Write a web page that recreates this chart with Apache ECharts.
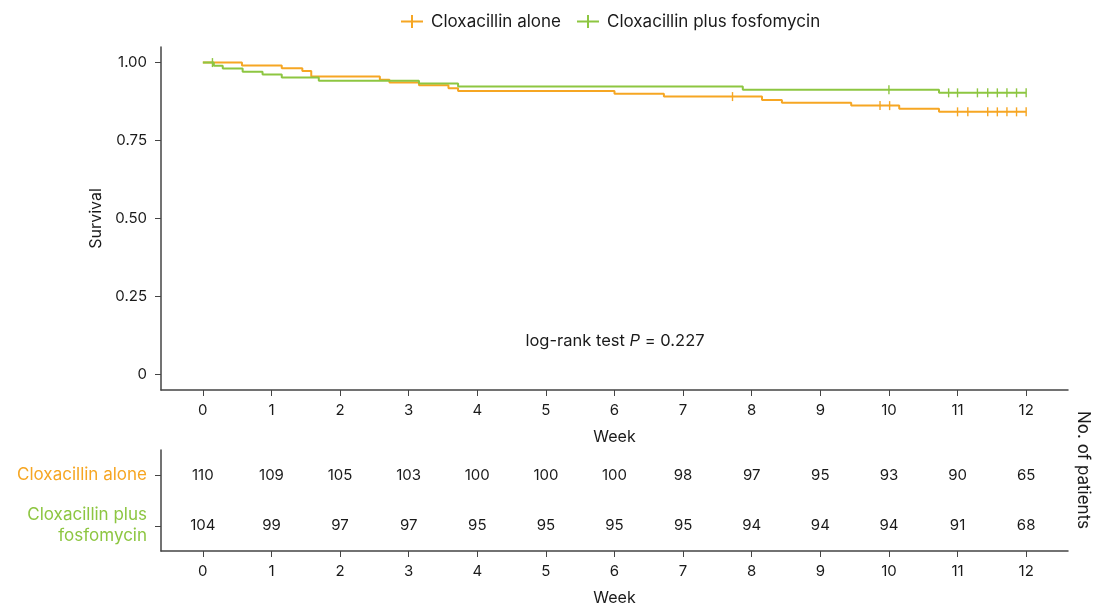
<!DOCTYPE html>
<html>
<head>
<meta charset="utf-8">
<script src="https://cdn.jsdelivr.net/npm/echarts@6/dist/echarts.min.js"></script>
<style>
html,body{margin:0;padding:0;background:#fff;}
#chart{width:1096px;height:608px;}
</style>
</head>
<body>
<div id="chart"></div>
<script>
// ---- data ----
var seriesNames = ['Cloxacillin alone', 'Cloxacillin plus fosfomycin'];
var rowLabels = ['Cloxacillin alone', 'Cloxacillin plus\nfosfomycin'];
var weeks = [0,1,2,3,4,5,6,7,8,9,10,11,12];
var yTicks = [0, 0.25, 0.5, 0.75, 1];

var aloneTimes = [0, 0.57, 1.15, 1.45, 1.58, 2.58, 2.72, 3.15, 3.58, 3.72, 6.0, 6.72, 8.15, 8.44, 9.45, 10.15, 10.73, 12];
var aloneSurv  = [1, 0.991, 0.982, 0.973, 0.955, 0.945, 0.936, 0.927, 0.918, 0.909, 0.900, 0.891, 0.880, 0.871, 0.862, 0.852, 0.842, 0.842];
var aloneCensor = [7.72, 9.87, 10.01, 11.0, 11.15, 11.44, 11.58, 11.72, 11.86, 12.0];

var plusTimes = [0, 0.16, 0.29, 0.58, 0.87, 1.15, 1.69, 3.15, 3.72, 7.87, 10.73, 12];
var plusSurv  = [1, 0.990, 0.981, 0.971, 0.962, 0.952, 0.942, 0.933, 0.923, 0.913, 0.903, 0.903];
var plusCensor = [0.14, 10.0, 10.87, 11.0, 11.29, 11.44, 11.58, 11.72, 11.86, 12.0];

var aloneAtRisk = [110,109,105,103,100,100,100,98,97,95,93,90,65];
var plusAtRisk  = [104,99,97,97,95,95,95,95,94,94,94,91,68];

// ---- styling ----
var ORANGE = '#F6A623';
var GREEN = '#8DC641';
var FONT = 'Inter';
var AX = '#444';
var TXT = '#1a1a1a';

function pairs(ts, ss){ return ts.map(function(t,i){ return [t, ss[i]]; }); }
function survAt(ts, ss, t){
  var v = ss[0];
  for (var i=0;i<ts.length;i++){ if (ts[i] <= t) v = ss[i]; }
  return v;
}
function censorPts(cs, ts, ss){ return cs.map(function(t){ return [t, survAt(ts, ss, t)]; }); }
function riskPts(arr, row){ return arr.map(function(v,i){ return [weeks[i], row, v]; }); }

var plusIcon = 'path://M0,5.5 L22,5.5 L22,7.5 L0,7.5 Z M10,0 L12,0 L12,13 L10,13 Z';

var chart = echarts.init(document.getElementById('chart'), null, {renderer:'canvas'});
var option = {
  animation: false,
  textStyle: {fontFamily: FONT},
  legend: {
    data: [{name: seriesNames[0], icon: plusIcon}, {name: seriesNames[1], icon: plusIcon}],
    top: 8, left: 396,
    itemWidth: 22, itemHeight: 13, itemGap: 16,
    textStyle: {fontSize: 17, color: TXT, fontFamily: FONT, padding: [0, 0, 0, 3]}
  },
  grid: [
    {left: 161, right: 28, top: 47, bottom: 218},
    {left: 161, right: 28, top: 450, bottom: 57}
  ],
  xAxis: [
    {
      type: 'value', gridIndex: 0, min: -0.61, max: 12.61,
      name: 'Week', nameLocation: 'middle', nameGap: 39,
      nameTextStyle: {fontSize: 16, color: TXT},
      splitLine: {show: false},
      axisLine: {show: true, onZero: false, lineStyle: {color: AX, width: 1.5}},
      axisTick: {show: true, length: 6, lineStyle: {color: AX}, customValues: weeks},
      axisLabel: {fontSize: 15, color: TXT, margin: 13, customValues: weeks}
    },
    {
      type: 'value', gridIndex: 1, min: -0.61, max: 12.61,
      name: 'Week', nameLocation: 'middle', nameGap: 39,
      nameTextStyle: {fontSize: 16, color: TXT},
      splitLine: {show: false},
      axisLine: {show: true, onZero: false, lineStyle: {color: AX, width: 1.5}},
      axisTick: {show: true, length: 6, lineStyle: {color: AX}, customValues: weeks},
      axisLabel: {fontSize: 15, color: TXT, margin: 13, customValues: weeks}
    }
  ],
  yAxis: [
    {
      type: 'value', gridIndex: 0, min: -0.05, max: 1.05,
      name: 'Survival', nameLocation: 'middle', nameGap: 56, nameRotate: 90,
      nameTextStyle: {fontSize: 16, color: TXT},
      splitLine: {show: false},
      axisLine: {show: true, onZero: false, lineStyle: {color: AX, width: 1.5}},
      axisTick: {show: true, length: 6, lineStyle: {color: AX}, customValues: yTicks},
      axisLabel: {fontSize: 15, color: TXT, margin: 14, customValues: yTicks,
        formatter: function(v){ return v === 0 ? '0' : v.toFixed(2); }}
    },
    {
      type: 'category', gridIndex: 1, data: rowLabels, inverse: true,
      splitLine: {show: false},
      axisLine: {show: true, onZero: false, lineStyle: {color: AX, width: 1.5}},
      axisTick: {show: true, length: 6, alignWithLabel: true, lineStyle: {color: AX}},
      axisLabel: {fontSize: 17, margin: 14, lineHeight: 21, align: 'right',
        color: function(v, i){ return i === 0 ? ORANGE : GREEN; }}
    }
  ],
  series: [
    {
      name: seriesNames[0], type: 'line', step: 'end', xAxisIndex: 0, yAxisIndex: 0,
      data: pairs(aloneTimes, aloneSurv), showSymbol: false, symbol: 'none',
      lineStyle: {color: ORANGE, width: 2}, itemStyle: {color: ORANGE}, z: 3
    },
    {
      name: seriesNames[1], type: 'line', step: 'end', xAxisIndex: 0, yAxisIndex: 0,
      data: pairs(plusTimes, plusSurv), showSymbol: false, symbol: 'none',
      lineStyle: {color: GREEN, width: 2}, itemStyle: {color: GREEN}, z: 4
    },
    {
      name: 'aloneCensor', type: 'scatter', xAxisIndex: 0, yAxisIndex: 0,
      data: censorPts(aloneCensor, aloneTimes, aloneSurv),
      symbol: 'rect', symbolSize: [1.4, 9], itemStyle: {color: ORANGE, opacity: 1}, z: 5
    },
    {
      name: 'plusCensor', type: 'scatter', xAxisIndex: 0, yAxisIndex: 0,
      data: censorPts(plusCensor, plusTimes, plusSurv),
      symbol: 'rect', symbolSize: [1.4, 9], itemStyle: {color: GREEN, opacity: 1}, z: 5
    },
    {
      name: 'riskAlone', type: 'scatter', xAxisIndex: 1, yAxisIndex: 1,
      data: riskPts(aloneAtRisk, 0), symbolSize: 0, itemStyle: {opacity: 1},
      label: {show: true, position: 'inside', fontSize: 15, color: TXT, opacity: 1,
        formatter: function(p){ return p.value[2]; }}
    },
    {
      name: 'riskPlus', type: 'scatter', xAxisIndex: 1, yAxisIndex: 1,
      data: riskPts(plusAtRisk, 1), symbolSize: 0, itemStyle: {opacity: 1},
      label: {show: true, position: 'inside', fontSize: 15, color: TXT, opacity: 1,
        formatter: function(p){ return p.value[2]; }}
    }
  ],
  graphic: [
    {
      type: 'text', x: 1083, y: 470, rotation: -Math.PI/2,
      style: {text: 'No. of patients', fill: TXT, font: '17px Inter',
        textAlign: 'center', textVerticalAlign: 'middle'}
    },
    {
      type: 'text', x: 615, y: 341,
      style: {
        text: '{a|log-rank test }{b|P}{a| = 0.227}',
        textAlign: 'center', textVerticalAlign: 'middle',
        rich: {
          a: {fontSize: 16.5, fontFamily: FONT, fill: TXT, color: TXT},
          b: {fontSize: 16.5, fontFamily: FONT, fontStyle: 'italic', fill: TXT, color: TXT}
        }
      }
    }
  ]
};
chart.setOption(option);
</script>
</body>
</html>
